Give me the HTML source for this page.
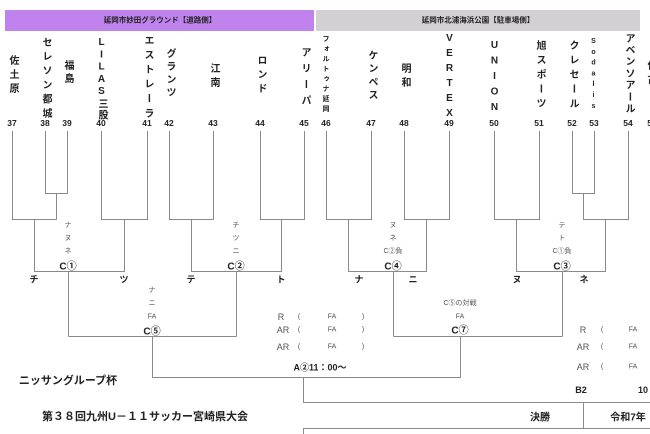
<!DOCTYPE html>
<html><head><meta charset="utf-8"><style>
body{margin:0;width:650px;height:434px;overflow:hidden;background:#fff;position:relative;font-family:"Liberation Sans","Noto Sans CJK JP",sans-serif;color:#222}
.v{position:absolute;writing-mode:vertical-rl;text-orientation:upright;font-size:10px;font-weight:bold;line-height:10px;white-space:nowrap}
.t{position:absolute;transform:translate(-50%,-50%);white-space:nowrap;font-size:9px}
.n{font-size:8.5px;font-weight:bold}
.s{font-size:7px;color:#555}
.b{font-weight:bold}
svg{position:absolute;left:0;top:0}
</style></head><body>
<div style="position:absolute;left:5px;top:10px;width:309px;height:21px;background:#c083ee"></div>
<div style="position:absolute;left:316px;top:10px;width:324px;height:21px;background:#d3d0d3"></div>
<div class="t b" style="left:160px;top:20px;font-size:7.5px">延岡市妙田グラウンド【道路側】</div>
<div class="t b" style="left:478px;top:20px;font-size:7.5px">延岡市北浦海浜公園【駐車場側】</div>

<div class="v" style="left:7px;top:55px;letter-spacing:4px">佐土原</div>
<div class="v" style="left:40px;top:37px;letter-spacing:4.2px">セレソン都城</div>
<div class="v" style="left:62px;top:60px;letter-spacing:3px">福島</div>
<div class="v" style="left:96px;top:37px;letter-spacing:1.3px">LILAS三股</div>
<div class="v" style="left:142px;top:35px;letter-spacing:4.6px">エストレーラ</div>
<div class="v" style="left:164px;top:48px;letter-spacing:3px">グランツ</div>
<div class="v" style="left:208px;top:63px;letter-spacing:4px">江南</div>
<div class="v" style="left:255px;top:55px;letter-spacing:4px">ロンド</div>
<div class="v" style="left:299px;top:47px;letter-spacing:6px">アリーパ</div>
<div class="v" style="left:322px;top:35px;font-size:7px;line-height:7px;letter-spacing:3px">フォルトゥナ延岡</div>
<div class="v" style="left:366px;top:50px;letter-spacing:3.3px">ケンペス</div>
<div class="v" style="left:399px;top:63px;letter-spacing:4px">明和</div>
<div class="v" style="left:444px;top:33px;letter-spacing:4px">VERTEX</div>
<div class="v" style="left:489px;top:40px;letter-spacing:4.5px">UNION</div>
<div class="v" style="left:534px;top:40px;letter-spacing:4.5px">旭スポーツ</div>
<div class="v" style="left:567px;top:40px;letter-spacing:4.5px">クレセール</div>
<div class="v" style="left:590px;top:38px;font-size:7px;line-height:7px;letter-spacing:3.8px">Sodalis</div>
<div class="v" style="left:623px;top:33px;letter-spacing:1.7px">アベンソアール</div>
<div class="v" style="left:645px;top:60px;letter-spacing:4px">佐古</div>

<div class="t n" style="left:12px;top:123px">37</div>
<div class="t n" style="left:45px;top:123px">38</div>
<div class="t n" style="left:67px;top:123px">39</div>
<div class="t n" style="left:101px;top:123px">40</div>
<div class="t n" style="left:147px;top:123px">41</div>
<div class="t n" style="left:169px;top:123px">42</div>
<div class="t n" style="left:213px;top:123px">43</div>
<div class="t n" style="left:260px;top:123px">44</div>
<div class="t n" style="left:304px;top:123px">45</div>
<div class="t n" style="left:326px;top:123px">46</div>
<div class="t n" style="left:371px;top:123px">47</div>
<div class="t n" style="left:404px;top:123px">48</div>
<div class="t n" style="left:449px;top:123px">49</div>
<div class="t n" style="left:494px;top:123px">50</div>
<div class="t n" style="left:539px;top:123px">51</div>
<div class="t n" style="left:572px;top:123px">52</div>
<div class="t n" style="left:594px;top:123px">53</div>
<div class="t n" style="left:628px;top:123px">54</div>
<div class="t n" style="left:652px;top:123px">55</div>

<svg width="650" height="434" fill="none" stroke="#8a8a8a" stroke-width="1">
<path d="M12.5 131V219.5H56.5M45.5 131V193.5H67.5V131M56.5 193.5V219.5"/>
<path d="M101.5 131V219.5H147.5V131"/>
<path d="M169.5 131V219.5H213.5V131"/>
<path d="M260.5 131V219.5H304.5V131"/>
<path d="M326.5 131V219.5H371.5V131"/>
<path d="M404.5 131V219.5H449.5V131"/>
<path d="M494.5 131V219.5H539.5V131"/>
<path d="M572.5 131V193.5H594.5V131M583.5 193.5V219.5H628.5V131"/>
<path d="M34.5 219.5V271.5H124.5V219.5M68.5 271.5V336.5"/>
<path d="M191.5 219.5V271.5H281.5V219.5M236.5 271.5V336.5"/>
<path d="M348.5 219.5V271.5H426.5V219.5M393.5 271.5V336.5"/>
<path d="M516.5 219.5V271.5H605.5V219.5M562.5 271.5V336.5"/>
<path d="M68.5 336.5H236.5M152.5 336.5V377.5H460.5V336.5M393.5 336.5H562.5"/>
<path d="M303.5 377.5V402.5H650M583.5 402.5V428.5M303.5 434V428.5H650"/>
</svg>

<div class="t s" style="left:68px;top:225px">ナ</div>
<div class="t s" style="left:68px;top:238px">ヌ</div>
<div class="t s" style="left:68px;top:251px">ネ</div>
<div class="t b" style="left:68px;top:265px;font-size:10px">C①</div>
<div class="t b" style="left:34px;top:279px">チ</div>
<div class="t b" style="left:124px;top:279px">ツ</div>

<div class="t s" style="left:236px;top:225px">チ</div>
<div class="t s" style="left:236px;top:238px">ツ</div>
<div class="t s" style="left:236px;top:251px">ニ</div>
<div class="t b" style="left:236px;top:265px;font-size:10px">C②</div>
<div class="t b" style="left:191px;top:279px">テ</div>
<div class="t b" style="left:281px;top:279px">ト</div>

<div class="t s" style="left:393px;top:225px">ヌ</div>
<div class="t s" style="left:393px;top:238px">ネ</div>
<div class="t s" style="left:393px;top:251px">C②負</div>
<div class="t b" style="left:393px;top:265px;font-size:10px">C④</div>
<div class="t b" style="left:359px;top:279px">ナ</div>
<div class="t b" style="left:413px;top:279px">ニ</div>

<div class="t s" style="left:562px;top:225px">テ</div>
<div class="t s" style="left:562px;top:238px">ト</div>
<div class="t s" style="left:562px;top:251px">C①負</div>
<div class="t b" style="left:562px;top:265px;font-size:10px">C③</div>
<div class="t b" style="left:517px;top:279px">ヌ</div>
<div class="t b" style="left:584px;top:279px">ネ</div>

<div class="t s" style="left:152px;top:290px">ナ</div>
<div class="t s" style="left:152px;top:303px">ニ</div>
<div class="t s" style="left:152px;top:317px">FA</div>
<div class="t b" style="left:152px;top:330px;font-size:10px">C⑤</div>

<div class="t s" style="left:460px;top:303px">C⑤の対戦</div>
<div class="t s" style="left:460px;top:317px">FA</div>
<div class="t b" style="left:460px;top:329px;font-size:10px">C⑦</div>

<div class="t" style="left:281px;top:317px;color:#555">R</div>
<div class="t" style="left:283px;top:330px;color:#555">AR</div>
<div class="t" style="left:283px;top:347px;color:#555">AR</div>
<div class="t s" style="left:299px;top:317px">(</div>
<div class="t s" style="left:299px;top:330px">(</div>
<div class="t s" style="left:299px;top:347px">(</div>
<div class="t s" style="left:332px;top:317px">FA</div>
<div class="t s" style="left:332px;top:330px">FA</div>
<div class="t s" style="left:332px;top:347px">FA</div>
<div class="t s" style="left:363px;top:317px">)</div>
<div class="t s" style="left:363px;top:330px">)</div>
<div class="t s" style="left:363px;top:347px">)</div>
<div class="t b" style="left:320px;top:367px">A②11：00～</div>

<div class="t" style="left:583px;top:330px;color:#555">R</div>
<div class="t" style="left:583px;top:347px;color:#555">AR</div>
<div class="t" style="left:583px;top:367px;color:#555">AR</div>
<div class="t s" style="left:602px;top:330px">(</div>
<div class="t s" style="left:602px;top:347px">(</div>
<div class="t s" style="left:602px;top:367px">(</div>
<div class="t s" style="left:633px;top:330px">FA</div>
<div class="t s" style="left:633px;top:347px">FA</div>
<div class="t s" style="left:633px;top:367px">FA</div>
<div class="t b" style="left:581px;top:390px">B2</div>
<div class="t b" style="left:643px;top:390px">10</div>

<div class="t b" style="left:68px;top:380px;font-size:11px">ニッサングループ杯</div>
<div class="t b" style="left:145px;top:416px;font-size:11px">第３８回九州U－１１サッカー宮崎県大会</div>
<div class="t b" style="left:540px;top:416px;font-size:10px">決勝</div>
<div class="t b" style="left:628px;top:416px;font-size:10px">令和7年</div>
</body></html>
